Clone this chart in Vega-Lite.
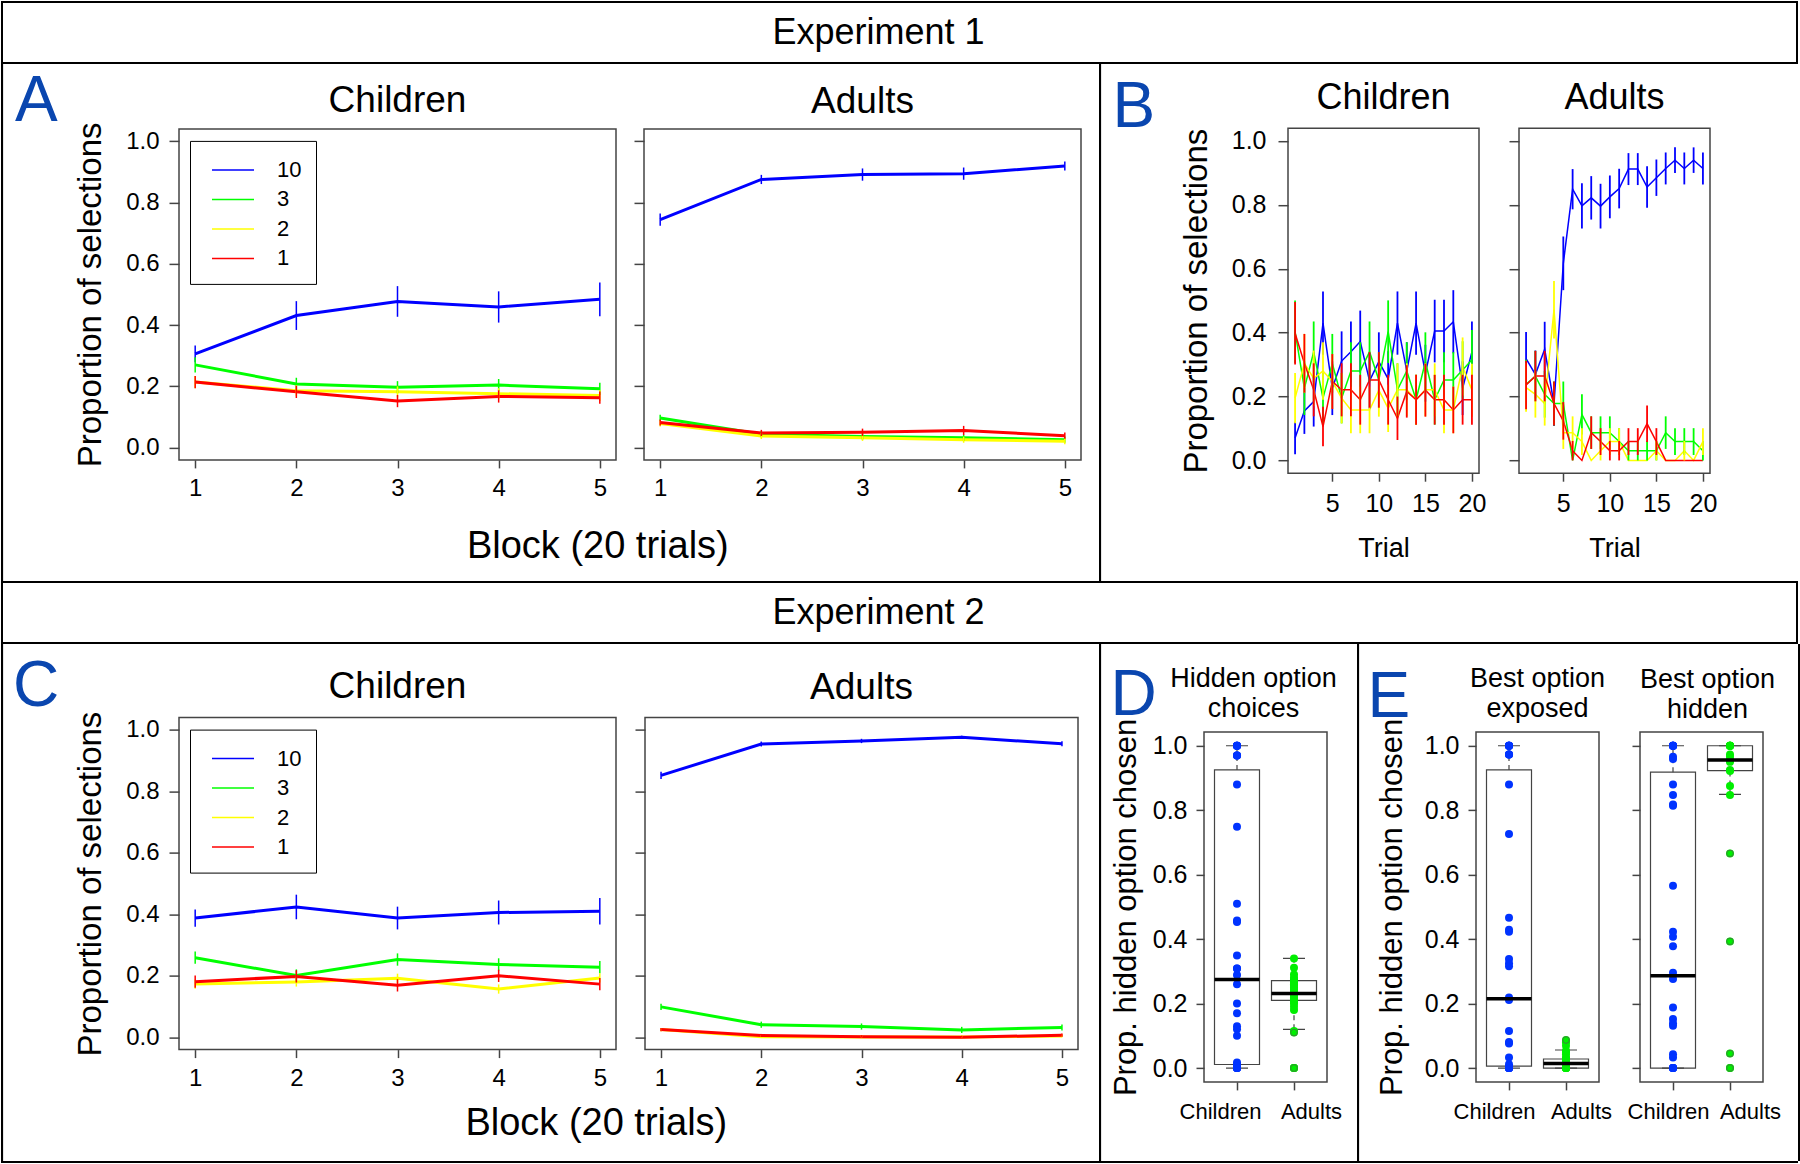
{
"$schema": "https://vega.github.io/schema/vega-lite/v6.json",
"padding": {"left": 1, "top": 1, "right": 0, "bottom": 0},
"background": "white",
"config": {
  "font": "Liberation Sans",
  "view": {"stroke": null},
  "title": {"fontWeight": "normal", "color": "black", "font": "Liberation Sans"},
  "axis": {"domain": false, "grid": false, "tickColor": "#444", "tickWidth": 1.5, "labelColor": "black", "titleColor": "black", "titleFontWeight": "normal", "labelFont": "Liberation Sans", "titleFont": "Liberation Sans", "labelFlush": false, "labelOverlap": false}
},
"datasets": {
  "blocks": [
    {"e":1,"g":"Children","o":"10","b":1,"p":0.306,"lo":0.279,"hi":0.333},
    {"e":1,"g":"Children","o":"10","b":2,"p":0.431,"lo":0.384,"hi":0.478},
    {"e":1,"g":"Children","o":"10","b":3,"p":0.477,"lo":0.427,"hi":0.527},
    {"e":1,"g":"Children","o":"10","b":4,"p":0.459,"lo":0.408,"hi":0.510},
    {"e":1,"g":"Children","o":"10","b":5,"p":0.484,"lo":0.429,"hi":0.539},
    {"e":1,"g":"Children","o":"3","b":1,"p":0.270,"lo":0.245,"hi":0.295},
    {"e":1,"g":"Children","o":"3","b":2,"p":0.208,"lo":0.188,"hi":0.228},
    {"e":1,"g":"Children","o":"3","b":3,"p":0.197,"lo":0.177,"hi":0.217},
    {"e":1,"g":"Children","o":"3","b":4,"p":0.204,"lo":0.184,"hi":0.224},
    {"e":1,"g":"Children","o":"3","b":5,"p":0.192,"lo":0.172,"hi":0.212},
    {"e":1,"g":"Children","o":"2","b":1,"p":0.214,"lo":0.194,"hi":0.234},
    {"e":1,"g":"Children","o":"2","b":2,"p":0.186,"lo":0.168,"hi":0.204},
    {"e":1,"g":"Children","o":"2","b":3,"p":0.182,"lo":0.164,"hi":0.200},
    {"e":1,"g":"Children","o":"2","b":4,"p":0.176,"lo":0.158,"hi":0.194},
    {"e":1,"g":"Children","o":"2","b":5,"p":0.170,"lo":0.152,"hi":0.188},
    {"e":1,"g":"Children","o":"1","b":1,"p":0.214,"lo":0.194,"hi":0.234},
    {"e":1,"g":"Children","o":"1","b":2,"p":0.182,"lo":0.162,"hi":0.202},
    {"e":1,"g":"Children","o":"1","b":3,"p":0.152,"lo":0.132,"hi":0.172},
    {"e":1,"g":"Children","o":"1","b":4,"p":0.167,"lo":0.147,"hi":0.187},
    {"e":1,"g":"Children","o":"1","b":5,"p":0.163,"lo":0.143,"hi":0.183},
    {"e":1,"g":"Adults","o":"10","b":1,"p":0.744,"lo":0.724,"hi":0.764},
    {"e":1,"g":"Adults","o":"10","b":2,"p":0.875,"lo":0.860,"hi":0.890},
    {"e":1,"g":"Adults","o":"10","b":3,"p":0.891,"lo":0.871,"hi":0.911},
    {"e":1,"g":"Adults","o":"10","b":4,"p":0.894,"lo":0.874,"hi":0.914},
    {"e":1,"g":"Adults","o":"10","b":5,"p":0.919,"lo":0.904,"hi":0.934},
    {"e":1,"g":"Adults","o":"3","b":1,"p":0.097,"lo":0.087,"hi":0.107},
    {"e":1,"g":"Adults","o":"3","b":2,"p":0.044,"lo":0.034,"hi":0.054},
    {"e":1,"g":"Adults","o":"3","b":3,"p":0.036,"lo":0.026,"hi":0.046},
    {"e":1,"g":"Adults","o":"3","b":4,"p":0.032,"lo":0.022,"hi":0.042},
    {"e":1,"g":"Adults","o":"3","b":5,"p":0.026,"lo":0.016,"hi":0.036},
    {"e":1,"g":"Adults","o":"2","b":1,"p":0.079,"lo":0.069,"hi":0.089},
    {"e":1,"g":"Adults","o":"2","b":2,"p":0.038,"lo":0.028,"hi":0.048},
    {"e":1,"g":"Adults","o":"2","b":3,"p":0.032,"lo":0.022,"hi":0.042},
    {"e":1,"g":"Adults","o":"2","b":4,"p":0.026,"lo":0.016,"hi":0.036},
    {"e":1,"g":"Adults","o":"2","b":5,"p":0.021,"lo":0.011,"hi":0.031},
    {"e":1,"g":"Adults","o":"1","b":1,"p":0.082,"lo":0.072,"hi":0.092},
    {"e":1,"g":"Adults","o":"1","b":2,"p":0.048,"lo":0.038,"hi":0.058},
    {"e":1,"g":"Adults","o":"1","b":3,"p":0.050,"lo":0.038,"hi":0.062},
    {"e":1,"g":"Adults","o":"1","b":4,"p":0.056,"lo":0.041,"hi":0.071},
    {"e":1,"g":"Adults","o":"1","b":5,"p":0.039,"lo":0.029,"hi":0.049},
    {"e":2,"g":"Children","o":"10","b":1,"p":0.388,"lo":0.360,"hi":0.416},
    {"e":2,"g":"Children","o":"10","b":2,"p":0.424,"lo":0.384,"hi":0.464},
    {"e":2,"g":"Children","o":"10","b":3,"p":0.388,"lo":0.351,"hi":0.425},
    {"e":2,"g":"Children","o":"10","b":4,"p":0.406,"lo":0.367,"hi":0.445},
    {"e":2,"g":"Children","o":"10","b":5,"p":0.410,"lo":0.367,"hi":0.453},
    {"e":2,"g":"Children","o":"3","b":1,"p":0.259,"lo":0.239,"hi":0.279},
    {"e":2,"g":"Children","o":"3","b":2,"p":0.201,"lo":0.181,"hi":0.221},
    {"e":2,"g":"Children","o":"3","b":3,"p":0.253,"lo":0.233,"hi":0.273},
    {"e":2,"g":"Children","o":"3","b":4,"p":0.237,"lo":0.217,"hi":0.257},
    {"e":2,"g":"Children","o":"3","b":5,"p":0.228,"lo":0.208,"hi":0.248},
    {"e":2,"g":"Children","o":"2","b":1,"p":0.173,"lo":0.158,"hi":0.188},
    {"e":2,"g":"Children","o":"2","b":2,"p":0.180,"lo":0.165,"hi":0.195},
    {"e":2,"g":"Children","o":"2","b":3,"p":0.192,"lo":0.177,"hi":0.207},
    {"e":2,"g":"Children","o":"2","b":4,"p":0.157,"lo":0.142,"hi":0.172},
    {"e":2,"g":"Children","o":"2","b":5,"p":0.193,"lo":0.178,"hi":0.208},
    {"e":2,"g":"Children","o":"1","b":1,"p":0.181,"lo":0.161,"hi":0.201},
    {"e":2,"g":"Children","o":"1","b":2,"p":0.198,"lo":0.178,"hi":0.218},
    {"e":2,"g":"Children","o":"1","b":3,"p":0.169,"lo":0.149,"hi":0.189},
    {"e":2,"g":"Children","o":"1","b":4,"p":0.200,"lo":0.180,"hi":0.220},
    {"e":2,"g":"Children","o":"1","b":5,"p":0.173,"lo":0.153,"hi":0.193},
    {"e":2,"g":"Adults","o":"10","b":1,"p":0.852,"lo":0.840,"hi":0.864},
    {"e":2,"g":"Adults","o":"10","b":2,"p":0.954,"lo":0.946,"hi":0.962},
    {"e":2,"g":"Adults","o":"10","b":3,"p":0.964,"lo":0.957,"hi":0.971},
    {"e":2,"g":"Adults","o":"10","b":4,"p":0.976,"lo":0.971,"hi":0.981},
    {"e":2,"g":"Adults","o":"10","b":5,"p":0.955,"lo":0.947,"hi":0.963},
    {"e":2,"g":"Adults","o":"3","b":1,"p":0.099,"lo":0.089,"hi":0.109},
    {"e":2,"g":"Adults","o":"3","b":2,"p":0.041,"lo":0.031,"hi":0.051},
    {"e":2,"g":"Adults","o":"3","b":3,"p":0.035,"lo":0.025,"hi":0.045},
    {"e":2,"g":"Adults","o":"3","b":4,"p":0.024,"lo":0.014,"hi":0.034},
    {"e":2,"g":"Adults","o":"3","b":5,"p":0.032,"lo":0.022,"hi":0.042},
    {"e":2,"g":"Adults","o":"2","b":1,"p":0.025,"lo":0.020,"hi":0.030},
    {"e":2,"g":"Adults","o":"2","b":2,"p":0.002,"lo":0.000,"hi":0.007},
    {"e":2,"g":"Adults","o":"2","b":3,"p":0.001,"lo":0.000,"hi":0.006},
    {"e":2,"g":"Adults","o":"2","b":4,"p":0.001,"lo":0.000,"hi":0.006},
    {"e":2,"g":"Adults","o":"2","b":5,"p":0.004,"lo":0.000,"hi":0.009},
    {"e":2,"g":"Adults","o":"1","b":1,"p":0.025,"lo":0.020,"hi":0.030},
    {"e":2,"g":"Adults","o":"1","b":2,"p":0.006,"lo":0.001,"hi":0.011},
    {"e":2,"g":"Adults","o":"1","b":3,"p":0.002,"lo":0.000,"hi":0.007},
    {"e":2,"g":"Adults","o":"1","b":4,"p":0.000,"lo":0.000,"hi":0.005},
    {"e":2,"g":"Adults","o":"1","b":5,"p":0.007,"lo":0.002,"hi":0.012}
  ],
  "trials": [
    {"g":"Children","o":"10","t":1,"p":0.07,"lo":0.019,"hi":0.121},
    {"g":"Children","o":"10","t":2,"p":0.155,"lo":0.083,"hi":0.227},
    {"g":"Children","o":"10","t":3,"p":0.184,"lo":0.106,"hi":0.262},
    {"g":"Children","o":"10","t":4,"p":0.43,"lo":0.331,"hi":0.529},
    {"g":"Children","o":"10","t":5,"p":0.226,"lo":0.142,"hi":0.31},
    {"g":"Children","o":"10","t":6,"p":0.311,"lo":0.218,"hi":0.404},
    {"g":"Children","o":"10","t":7,"p":0.34,"lo":0.245,"hi":0.435},
    {"g":"Children","o":"10","t":8,"p":0.372,"lo":0.275,"hi":0.469},
    {"g":"Children","o":"10","t":9,"p":0.249,"lo":0.162,"hi":0.336},
    {"g":"Children","o":"10","t":10,"p":0.309,"lo":0.217,"hi":0.401},
    {"g":"Children","o":"10","t":11,"p":0.255,"lo":0.168,"hi":0.342},
    {"g":"Children","o":"10","t":12,"p":0.43,"lo":0.331,"hi":0.529},
    {"g":"Children","o":"10","t":13,"p":0.28,"lo":0.19,"hi":0.37},
    {"g":"Children","o":"10","t":14,"p":0.43,"lo":0.331,"hi":0.529},
    {"g":"Children","o":"10","t":15,"p":0.273,"lo":0.184,"hi":0.362},
    {"g":"Children","o":"10","t":16,"p":0.405,"lo":0.307,"hi":0.503},
    {"g":"Children","o":"10","t":17,"p":0.405,"lo":0.307,"hi":0.503},
    {"g":"Children","o":"10","t":18,"p":0.434,"lo":0.335,"hi":0.533},
    {"g":"Children","o":"10","t":19,"p":0.226,"lo":0.142,"hi":0.31},
    {"g":"Children","o":"10","t":20,"p":0.34,"lo":0.245,"hi":0.435},
    {"g":"Children","o":"3","t":1,"p":0.403,"lo":0.305,"hi":0.501},
    {"g":"Children","o":"3","t":2,"p":0.226,"lo":0.142,"hi":0.31},
    {"g":"Children","o":"3","t":3,"p":0.34,"lo":0.245,"hi":0.435},
    {"g":"Children","o":"3","t":4,"p":0.195,"lo":0.116,"hi":0.274},
    {"g":"Children","o":"3","t":5,"p":0.304,"lo":0.212,"hi":0.396},
    {"g":"Children","o":"3","t":6,"p":0.195,"lo":0.116,"hi":0.274},
    {"g":"Children","o":"3","t":7,"p":0.28,"lo":0.19,"hi":0.37},
    {"g":"Children","o":"3","t":8,"p":0.28,"lo":0.19,"hi":0.37},
    {"g":"Children","o":"3","t":9,"p":0.34,"lo":0.245,"hi":0.435},
    {"g":"Children","o":"3","t":10,"p":0.252,"lo":0.165,"hi":0.339},
    {"g":"Children","o":"3","t":11,"p":0.403,"lo":0.305,"hi":0.501},
    {"g":"Children","o":"3","t":12,"p":0.221,"lo":0.138,"hi":0.304},
    {"g":"Children","o":"3","t":13,"p":0.28,"lo":0.19,"hi":0.37},
    {"g":"Children","o":"3","t":14,"p":0.19,"lo":0.112,"hi":0.268},
    {"g":"Children","o":"3","t":15,"p":0.309,"lo":0.217,"hi":0.401},
    {"g":"Children","o":"3","t":16,"p":0.19,"lo":0.112,"hi":0.268},
    {"g":"Children","o":"3","t":17,"p":0.252,"lo":0.165,"hi":0.339},
    {"g":"Children","o":"3","t":18,"p":0.252,"lo":0.165,"hi":0.339},
    {"g":"Children","o":"3","t":19,"p":0.283,"lo":0.193,"hi":0.373},
    {"g":"Children","o":"3","t":20,"p":0.315,"lo":0.222,"hi":0.408},
    {"g":"Children","o":"2","t":1,"p":0.195,"lo":0.116,"hi":0.274},
    {"g":"Children","o":"2","t":2,"p":0.304,"lo":0.212,"hi":0.396},
    {"g":"Children","o":"2","t":3,"p":0.257,"lo":0.17,"hi":0.344},
    {"g":"Children","o":"2","t":4,"p":0.28,"lo":0.19,"hi":0.37},
    {"g":"Children","o":"2","t":5,"p":0.247,"lo":0.161,"hi":0.333},
    {"g":"Children","o":"2","t":6,"p":0.195,"lo":0.116,"hi":0.274},
    {"g":"Children","o":"2","t":7,"p":0.158,"lo":0.085,"hi":0.231},
    {"g":"Children","o":"2","t":8,"p":0.158,"lo":0.085,"hi":0.231},
    {"g":"Children","o":"2","t":9,"p":0.158,"lo":0.085,"hi":0.231},
    {"g":"Children","o":"2","t":10,"p":0.22,"lo":0.137,"hi":0.303},
    {"g":"Children","o":"2","t":11,"p":0.163,"lo":0.089,"hi":0.237},
    {"g":"Children","o":"2","t":12,"p":0.221,"lo":0.138,"hi":0.304},
    {"g":"Children","o":"2","t":13,"p":0.221,"lo":0.138,"hi":0.304},
    {"g":"Children","o":"2","t":14,"p":0.19,"lo":0.112,"hi":0.268},
    {"g":"Children","o":"2","t":15,"p":0.221,"lo":0.138,"hi":0.304},
    {"g":"Children","o":"2","t":16,"p":0.221,"lo":0.138,"hi":0.304},
    {"g":"Children","o":"2","t":17,"p":0.158,"lo":0.085,"hi":0.231},
    {"g":"Children","o":"2","t":18,"p":0.158,"lo":0.085,"hi":0.231},
    {"g":"Children","o":"2","t":19,"p":0.294,"lo":0.203,"hi":0.385},
    {"g":"Children","o":"2","t":20,"p":0.22,"lo":0.137,"hi":0.303},
    {"g":"Children","o":"1","t":1,"p":0.398,"lo":0.3,"hi":0.496},
    {"g":"Children","o":"1","t":2,"p":0.304,"lo":0.212,"hi":0.396},
    {"g":"Children","o":"1","t":3,"p":0.221,"lo":0.138,"hi":0.304},
    {"g":"Children","o":"1","t":4,"p":0.106,"lo":0.044,"hi":0.168},
    {"g":"Children","o":"1","t":5,"p":0.247,"lo":0.161,"hi":0.333},
    {"g":"Children","o":"1","t":6,"p":0.221,"lo":0.138,"hi":0.304},
    {"g":"Children","o":"1","t":7,"p":0.221,"lo":0.138,"hi":0.304},
    {"g":"Children","o":"1","t":8,"p":0.19,"lo":0.112,"hi":0.268},
    {"g":"Children","o":"1","t":9,"p":0.252,"lo":0.165,"hi":0.339},
    {"g":"Children","o":"1","t":10,"p":0.252,"lo":0.165,"hi":0.339},
    {"g":"Children","o":"1","t":11,"p":0.19,"lo":0.112,"hi":0.268},
    {"g":"Children","o":"1","t":12,"p":0.132,"lo":0.064,"hi":0.2},
    {"g":"Children","o":"1","t":13,"p":0.216,"lo":0.134,"hi":0.298},
    {"g":"Children","o":"1","t":14,"p":0.19,"lo":0.112,"hi":0.268},
    {"g":"Children","o":"1","t":15,"p":0.22,"lo":0.137,"hi":0.303},
    {"g":"Children","o":"1","t":16,"p":0.19,"lo":0.112,"hi":0.268},
    {"g":"Children","o":"1","t":17,"p":0.19,"lo":0.112,"hi":0.268},
    {"g":"Children","o":"1","t":18,"p":0.158,"lo":0.085,"hi":0.231},
    {"g":"Children","o":"1","t":19,"p":0.19,"lo":0.112,"hi":0.268},
    {"g":"Children","o":"1","t":20,"p":0.19,"lo":0.112,"hi":0.268},
    {"g":"Adults","o":"10","t":1,"p":0.319,"lo":0.236,"hi":0.402},
    {"g":"Adults","o":"10","t":2,"p":0.269,"lo":0.194,"hi":0.344},
    {"g":"Adults","o":"10","t":3,"p":0.348,"lo":0.262,"hi":0.434},
    {"g":"Adults","o":"10","t":4,"p":0.176,"lo":0.108,"hi":0.244},
    {"g":"Adults","o":"10","t":5,"p":0.617,"lo":0.533,"hi":0.701},
    {"g":"Adults","o":"10","t":6,"p":0.849,"lo":0.786,"hi":0.912},
    {"g":"Adults","o":"10","t":7,"p":0.797,"lo":0.726,"hi":0.868},
    {"g":"Adults","o":"10","t":8,"p":0.822,"lo":0.754,"hi":0.89},
    {"g":"Adults","o":"10","t":9,"p":0.796,"lo":0.726,"hi":0.866},
    {"g":"Adults","o":"10","t":10,"p":0.825,"lo":0.758,"hi":0.892},
    {"g":"Adults","o":"10","t":11,"p":0.851,"lo":0.789,"hi":0.913},
    {"g":"Adults","o":"10","t":12,"p":0.912,"lo":0.862,"hi":0.962},
    {"g":"Adults","o":"10","t":13,"p":0.912,"lo":0.862,"hi":0.962},
    {"g":"Adults","o":"10","t":14,"p":0.856,"lo":0.791,"hi":0.921},
    {"g":"Adults","o":"10","t":15,"p":0.885,"lo":0.828,"hi":0.942},
    {"g":"Adults","o":"10","t":16,"p":0.914,"lo":0.864,"hi":0.964},
    {"g":"Adults","o":"10","t":17,"p":0.94,"lo":0.9,"hi":0.98},
    {"g":"Adults","o":"10","t":18,"p":0.914,"lo":0.864,"hi":0.964},
    {"g":"Adults","o":"10","t":19,"p":0.94,"lo":0.9,"hi":0.98},
    {"g":"Adults","o":"10","t":20,"p":0.914,"lo":0.864,"hi":0.964},
    {"g":"Adults","o":"3","t":1,"p":0.238,"lo":0.161,"hi":0.315},
    {"g":"Adults","o":"3","t":2,"p":0.264,"lo":0.185,"hi":0.343},
    {"g":"Adults","o":"3","t":3,"p":0.207,"lo":0.134,"hi":0.28},
    {"g":"Adults","o":"3","t":4,"p":0.178,"lo":0.109,"hi":0.247},
    {"g":"Adults","o":"3","t":5,"p":0.178,"lo":0.109,"hi":0.247},
    {"g":"Adults","o":"3","t":6,"p":0.0,"lo":0.0,"hi":0.0},
    {"g":"Adults","o":"3","t":7,"p":0.144,"lo":0.081,"hi":0.207},
    {"g":"Adults","o":"3","t":8,"p":0.087,"lo":0.036,"hi":0.138},
    {"g":"Adults","o":"3","t":9,"p":0.087,"lo":0.036,"hi":0.138},
    {"g":"Adults","o":"3","t":10,"p":0.087,"lo":0.036,"hi":0.138},
    {"g":"Adults","o":"3","t":11,"p":0.059,"lo":0.017,"hi":0.101},
    {"g":"Adults","o":"3","t":12,"p":0.03,"lo":0.0,"hi":0.061},
    {"g":"Adults","o":"3","t":13,"p":0.03,"lo":0.0,"hi":0.061},
    {"g":"Adults","o":"3","t":14,"p":0.03,"lo":0.0,"hi":0.061},
    {"g":"Adults","o":"3","t":15,"p":0.03,"lo":0.0,"hi":0.061},
    {"g":"Adults","o":"3","t":16,"p":0.087,"lo":0.036,"hi":0.138},
    {"g":"Adults","o":"3","t":17,"p":0.059,"lo":0.017,"hi":0.101},
    {"g":"Adults","o":"3","t":18,"p":0.059,"lo":0.017,"hi":0.101},
    {"g":"Adults","o":"3","t":19,"p":0.059,"lo":0.017,"hi":0.101},
    {"g":"Adults","o":"3","t":20,"p":0.03,"lo":0.0,"hi":0.061},
    {"g":"Adults","o":"2","t":1,"p":0.228,"lo":0.152,"hi":0.304},
    {"g":"Adults","o":"2","t":2,"p":0.207,"lo":0.134,"hi":0.28},
    {"g":"Adults","o":"2","t":3,"p":0.178,"lo":0.109,"hi":0.247},
    {"g":"Adults","o":"2","t":4,"p":0.472,"lo":0.382,"hi":0.562},
    {"g":"Adults","o":"2","t":5,"p":0.087,"lo":0.036,"hi":0.138},
    {"g":"Adults","o":"2","t":6,"p":0.087,"lo":0.036,"hi":0.138},
    {"g":"Adults","o":"2","t":7,"p":0.059,"lo":0.017,"hi":0.101},
    {"g":"Adults","o":"2","t":8,"p":0.0,"lo":0.0,"hi":0.0},
    {"g":"Adults","o":"2","t":9,"p":0.03,"lo":0.0,"hi":0.061},
    {"g":"Adults","o":"2","t":10,"p":0.059,"lo":0.017,"hi":0.101},
    {"g":"Adults","o":"2","t":11,"p":0.059,"lo":0.017,"hi":0.101},
    {"g":"Adults","o":"2","t":12,"p":0.0,"lo":0.0,"hi":0.0},
    {"g":"Adults","o":"2","t":13,"p":0.0,"lo":0.0,"hi":0.0},
    {"g":"Adults","o":"2","t":14,"p":0.0,"lo":0.0,"hi":0.0},
    {"g":"Adults","o":"2","t":15,"p":0.03,"lo":0.0,"hi":0.061},
    {"g":"Adults","o":"2","t":16,"p":0.0,"lo":0.0,"hi":0.0},
    {"g":"Adults","o":"2","t":17,"p":0.0,"lo":0.0,"hi":0.0},
    {"g":"Adults","o":"2","t":18,"p":0.03,"lo":0.0,"hi":0.061},
    {"g":"Adults","o":"2","t":19,"p":0.0,"lo":0.0,"hi":0.0},
    {"g":"Adults","o":"2","t":20,"p":0.059,"lo":0.017,"hi":0.101},
    {"g":"Adults","o":"1","t":1,"p":0.236,"lo":0.16,"hi":0.312},
    {"g":"Adults","o":"1","t":2,"p":0.264,"lo":0.185,"hi":0.343},
    {"g":"Adults","o":"1","t":3,"p":0.264,"lo":0.185,"hi":0.343},
    {"g":"Adults","o":"1","t":4,"p":0.178,"lo":0.109,"hi":0.247},
    {"g":"Adults","o":"1","t":5,"p":0.124,"lo":0.065,"hi":0.183},
    {"g":"Adults","o":"1","t":6,"p":0.03,"lo":0.0,"hi":0.061},
    {"g":"Adults","o":"1","t":7,"p":0.0,"lo":0.0,"hi":0.0},
    {"g":"Adults","o":"1","t":8,"p":0.087,"lo":0.036,"hi":0.138},
    {"g":"Adults","o":"1","t":9,"p":0.059,"lo":0.017,"hi":0.101},
    {"g":"Adults","o":"1","t":10,"p":0.03,"lo":0.0,"hi":0.061},
    {"g":"Adults","o":"1","t":11,"p":0.03,"lo":0.0,"hi":0.061},
    {"g":"Adults","o":"1","t":12,"p":0.059,"lo":0.017,"hi":0.101},
    {"g":"Adults","o":"1","t":13,"p":0.059,"lo":0.017,"hi":0.101},
    {"g":"Adults","o":"1","t":14,"p":0.115,"lo":0.058,"hi":0.172},
    {"g":"Adults","o":"1","t":15,"p":0.059,"lo":0.017,"hi":0.101},
    {"g":"Adults","o":"1","t":16,"p":0.0,"lo":0.0,"hi":0.0},
    {"g":"Adults","o":"1","t":17,"p":0.0,"lo":0.0,"hi":0.0},
    {"g":"Adults","o":"1","t":18,"p":0.0,"lo":0.0,"hi":0.0},
    {"g":"Adults","o":"1","t":19,"p":0.0,"lo":0.0,"hi":0.0},
    {"g":"Adults","o":"1","t":20,"p":0.0,"lo":0.0,"hi":0.0}
  ],
  "pts": [
    {"pn":"D","g":"Children","v":1},{"pn":"D","g":"Children","v":1},{"pn":"D","g":"Children","v":1},{"pn":"D","g":"Children","v":1},{"pn":"D","g":"Children","v":1},
    {"pn":"D","g":"Children","v":0.97},{"pn":"D","g":"Children","v":0.97},{"pn":"D","g":"Children","v":0.97},{"pn":"D","g":"Children","v":0.88},{"pn":"D","g":"Children","v":0.749},
    {"pn":"D","g":"Children","v":0.51},{"pn":"D","g":"Children","v":0.458},{"pn":"D","g":"Children","v":0.453},{"pn":"D","g":"Children","v":0.349},{"pn":"D","g":"Children","v":0.309},
    {"pn":"D","g":"Children","v":0.309},{"pn":"D","g":"Children","v":0.289},{"pn":"D","g":"Children","v":0.26},{"pn":"D","g":"Children","v":0.2},{"pn":"D","g":"Children","v":0.17},
    {"pn":"D","g":"Children","v":0.13},{"pn":"D","g":"Children","v":0.12},{"pn":"D","g":"Children","v":0.1},{"pn":"D","g":"Children","v":0.017},{"pn":"D","g":"Children","v":0.01},
    {"pn":"D","g":"Children","v":0.005},{"pn":"D","g":"Children","v":0},{"pn":"D","g":"Children","v":0},{"pn":"D","g":"Children","v":0},{"pn":"D","g":"Children","v":0},{"pn":"D","g":"Children","v":0},
    {"pn":"D","g":"Adults","v":0.34},{"pn":"D","g":"Adults","v":0.311},{"pn":"D","g":"Adults","v":0.29},{"pn":"D","g":"Adults","v":0.28},{"pn":"D","g":"Adults","v":0.275},
    {"pn":"D","g":"Adults","v":0.27},{"pn":"D","g":"Adults","v":0.265},{"pn":"D","g":"Adults","v":0.26},{"pn":"D","g":"Adults","v":0.255},{"pn":"D","g":"Adults","v":0.25},
    {"pn":"D","g":"Adults","v":0.245},{"pn":"D","g":"Adults","v":0.24},{"pn":"D","g":"Adults","v":0.235},{"pn":"D","g":"Adults","v":0.23},{"pn":"D","g":"Adults","v":0.228},
    {"pn":"D","g":"Adults","v":0.225},{"pn":"D","g":"Adults","v":0.22},{"pn":"D","g":"Adults","v":0.215},{"pn":"D","g":"Adults","v":0.21},{"pn":"D","g":"Adults","v":0.205},
    {"pn":"D","g":"Adults","v":0.2},{"pn":"D","g":"Adults","v":0.19},{"pn":"D","g":"Adults","v":0.18},{"pn":"D","g":"Adults","v":0.115},{"pn":"D","g":"Adults","v":0.11},
    {"pn":"D","g":"Adults","v":0},{"pn":"D","g":"Adults","v":0},{"pn":"D","g":"Adults","v":0},{"pn":"D","g":"Adults","v":0},
    {"pn":"E1","g":"Children","v":1},{"pn":"E1","g":"Children","v":1},{"pn":"E1","g":"Children","v":1},{"pn":"E1","g":"Children","v":1},{"pn":"E1","g":"Children","v":1},{"pn":"E1","g":"Children","v":1},
    {"pn":"E1","g":"Children","v":0.973},{"pn":"E1","g":"Children","v":0.973},{"pn":"E1","g":"Children","v":0.973},{"pn":"E1","g":"Children","v":0.88},{"pn":"E1","g":"Children","v":0.726},
    {"pn":"E1","g":"Children","v":0.466},{"pn":"E1","g":"Children","v":0.429},{"pn":"E1","g":"Children","v":0.423},{"pn":"E1","g":"Children","v":0.338},{"pn":"E1","g":"Children","v":0.325},
    {"pn":"E1","g":"Children","v":0.316},{"pn":"E1","g":"Children","v":0.219},{"pn":"E1","g":"Children","v":0.211},{"pn":"E1","g":"Children","v":0.115},{"pn":"E1","g":"Children","v":0.081},
    {"pn":"E1","g":"Children","v":0.076},{"pn":"E1","g":"Children","v":0.033},{"pn":"E1","g":"Children","v":0.012},
    {"pn":"E1","g":"Children","v":0},{"pn":"E1","g":"Children","v":0},{"pn":"E1","g":"Children","v":0},{"pn":"E1","g":"Children","v":0},{"pn":"E1","g":"Children","v":0},{"pn":"E1","g":"Children","v":0},
    {"pn":"E1","g":"Adults","v":0.087},{"pn":"E1","g":"Adults","v":0.082},{"pn":"E1","g":"Adults","v":0.08},{"pn":"E1","g":"Adults","v":0.069},{"pn":"E1","g":"Adults","v":0.054},
    {"pn":"E1","g":"Adults","v":0.05},{"pn":"E1","g":"Adults","v":0.043},{"pn":"E1","g":"Adults","v":0.033},{"pn":"E1","g":"Adults","v":0.03},{"pn":"E1","g":"Adults","v":0.023},
    {"pn":"E1","g":"Adults","v":0.02},{"pn":"E1","g":"Adults","v":0.012},{"pn":"E1","g":"Adults","v":0.01},
    {"pn":"E1","g":"Adults","v":0},{"pn":"E1","g":"Adults","v":0},{"pn":"E1","g":"Adults","v":0},{"pn":"E1","g":"Adults","v":0},{"pn":"E1","g":"Adults","v":0},{"pn":"E1","g":"Adults","v":0},
    {"pn":"E2","g":"Children","v":1},{"pn":"E2","g":"Children","v":1},{"pn":"E2","g":"Children","v":1},{"pn":"E2","g":"Children","v":1},{"pn":"E2","g":"Children","v":1},{"pn":"E2","g":"Children","v":1},
    {"pn":"E2","g":"Children","v":0.966},{"pn":"E2","g":"Children","v":0.959},{"pn":"E2","g":"Children","v":0.88},{"pn":"E2","g":"Children","v":0.847},{"pn":"E2","g":"Children","v":0.818},
    {"pn":"E2","g":"Children","v":0.814},{"pn":"E2","g":"Children","v":0.566},{"pn":"E2","g":"Children","v":0.423},{"pn":"E2","g":"Children","v":0.407},{"pn":"E2","g":"Children","v":0.378},
    {"pn":"E2","g":"Children","v":0.296},{"pn":"E2","g":"Children","v":0.276},{"pn":"E2","g":"Children","v":0.188},{"pn":"E2","g":"Children","v":0.152},{"pn":"E2","g":"Children","v":0.139},
    {"pn":"E2","g":"Children","v":0.131},{"pn":"E2","g":"Children","v":0.043},{"pn":"E2","g":"Children","v":0.033},
    {"pn":"E2","g":"Children","v":0},{"pn":"E2","g":"Children","v":0},{"pn":"E2","g":"Children","v":0},{"pn":"E2","g":"Children","v":0},{"pn":"E2","g":"Children","v":0},
    {"pn":"E2","g":"Adults","v":1},{"pn":"E2","g":"Adults","v":1},{"pn":"E2","g":"Adults","v":1},{"pn":"E2","g":"Adults","v":1},{"pn":"E2","g":"Adults","v":1},{"pn":"E2","g":"Adults","v":1},
    {"pn":"E2","g":"Adults","v":0.973},{"pn":"E2","g":"Adults","v":0.966},{"pn":"E2","g":"Adults","v":0.956},{"pn":"E2","g":"Adults","v":0.95},{"pn":"E2","g":"Adults","v":0.925},
    {"pn":"E2","g":"Adults","v":0.922},{"pn":"E2","g":"Adults","v":0.875},{"pn":"E2","g":"Adults","v":0.847},{"pn":"E2","g":"Adults","v":0.666},{"pn":"E2","g":"Adults","v":0.393},
    {"pn":"E2","g":"Adults","v":0.045},{"pn":"E2","g":"Adults","v":0},{"pn":"E2","g":"Adults","v":0}
  ],
  "boxes": [
    {"pn":"D","g":"Children","q1":0.011,"med":0.275,"q3":0.925,"wlo":0,"whi":1},
    {"pn":"D","g":"Adults","q1":0.21,"med":0.231,"q3":0.271,"wlo":0.12,"whi":0.34},
    {"pn":"E1","g":"Children","q1":0.006,"med":0.215,"q3":0.925,"wlo":0,"whi":1},
    {"pn":"E1","g":"Adults","q1":0,"med":0.014,"q3":0.028,"wlo":0,"whi":0.056},
    {"pn":"E2","g":"Children","q1":0,"med":0.286,"q3":0.918,"wlo":0,"whi":1},
    {"pn":"E2","g":"Adults","q1":0.923,"med":0.956,"q3":1,"wlo":0.849,"whi":1}
  ],
  "outl": [
    {"pn":"D","g":"Adults","v":0.11},{"pn":"D","g":"Adults","v":0},
    {"pn":"E1","g":"Adults","v":0.087},
    {"pn":"E2","g":"Adults","v":0.666},{"pn":"E2","g":"Adults","v":0.393},{"pn":"E2","g":"Adults","v":0.045},{"pn":"E2","g":"Adults","v":0}
  ]
},
"spacing": 0,
"resolve": {"scale": {"color": "independent"}},
"vconcat": [
  {"width": 1795, "height": 61, "data": {"values": [{"t": "Experiment 1"}]}, "mark": {"type": "text", "fontSize": 36, "dx": -21, "color": "black"}, "encoding": {"text": {"field": "t"}}, "view": {"stroke": "black", "strokeWidth": 2}},
  {"hconcat": [
    {"width": 0.1, "height": 515, "data": {"values": [{}]}, "mark": {"type": "text", "text": "", "fontSize": 0}, "view": {"stroke": "black", "strokeWidth": 2}},
    {"width": 10, "height": 2, "data": {"values": [{}]}, "mark": {"type": "text", "text": "", "fontSize": 0}},
    {"vconcat": [
      {"width": 1, "height": 0.1, "data": {"values": [{}]}, "mark": {"type": "text", "text": "", "fontSize": 0}},
      {"hconcat": [
        {"width": 437, "height": 331, "view": {"stroke": "#444", "strokeWidth": 1.5},
         "title": {"text": "Children", "fontSize": 37, "offset": -27, "baseline": "alphabetic"},
         "data": {"name": "blocks"},
         "transform": [{"filter": "datum.e == 1 && datum.g == 'Children'"}],
         "encoding": {
           "x": {"field": "b", "type": "quantitative", "scale": {"domain": [0.84, 5.16], "nice": false, "zero": false}, "axis": {"values": [1,2,3,4,5], "format": "d", "title": null, "tickSize": 8, "labelFontSize": 24, "labelPadding": 9}},
           "color": {"field": "o", "type": "nominal", "scale": {"domain": ["10","3","2","1"], "range": ["#0000FF","#00FF00","#FFFF00","#FF0000"]},
             "legend": {"orient": "none", "legendX": 11, "legendY": 12, "title": null, "strokeColor": "black", "padding": 14, "symbolType": "M-1.5,0H1.5", "symbolSize": 784, "symbolStrokeWidth": 1.5, "symbolOffset": 14, "labelOffset": 29, "labelFontSize": 22, "rowPadding": 3.5, "labelColor": "black"}}
         },
         "layer": [
           {"mark": {"type": "line", "strokeWidth": 3}, "encoding": {"y": {"field": "p", "type": "quantitative", "title": "Proportion of selections", "scale": {"domain": [-0.04, 1.04], "nice": false, "zero": false}, "axis": {"values": [0,0.2,0.4,0.6,0.8,1], "format": ".1f", "tickSize": 10, "labelFontSize": 24, "labelPadding": 10, "titleFontSize": 33, "titlePadding": 18}}}},
           {"mark": {"type": "rule", "strokeWidth": 1.5}, "encoding": {"y": {"field": "lo", "type": "quantitative", "title": "Proportion of selections", "scale": {"domain": [-0.04, 1.04], "nice": false, "zero": false}}, "y2": {"field": "hi"}}}
         ]},
        {"width": 437, "height": 331, "view": {"stroke": "#444", "strokeWidth": 1.5},
         "title": {"text": "Adults", "fontSize": 37, "offset": -21, "baseline": "alphabetic"},
         "data": {"name": "blocks"},
         "transform": [{"filter": "datum.e == 1 && datum.g == 'Adults'"}],
         "encoding": {
           "x": {"field": "b", "type": "quantitative", "scale": {"domain": [0.84, 5.16], "nice": false, "zero": false}, "axis": {"values": [1,2,3,4,5], "format": "d", "title": null, "tickSize": 8, "labelFontSize": 24, "labelPadding": 9}},
           "color": {"field": "o", "type": "nominal", "scale": {"domain": ["10","3","2","1"], "range": ["#0000FF","#00FF00","#FFFF00","#FF0000"]}, "legend": null}
         },
         "layer": [
           {"mark": {"type": "line", "strokeWidth": 3}, "encoding": {"y": {"field": "p", "type": "quantitative", "title": null, "scale": {"domain": [-0.04, 1.04], "nice": false, "zero": false}, "axis": {"values": [0,0.2,0.4,0.6,0.8,1], "labels": false, "tickSize": 10}}}},
           {"mark": {"type": "rule", "strokeWidth": 1.5}, "encoding": {"y": {"field": "lo", "type": "quantitative", "title": null, "scale": {"domain": [-0.04, 1.04], "nice": false, "zero": false}}, "y2": {"field": "hi"}}}
         ]}
      ], "spacing": 15, "resolve": {"scale": {"color": "independent"}},
      "title": {"text": "Block (20 trials)", "orient": "bottom", "anchor": "middle", "frame": "bounds", "fontSize": 38, "offset": 56, "dx": 20, "baseline": "alphabetic"}}
    ], "spacing": 14.9, "resolve": {"scale": {"color": "independent"}},
    "title": {"text": "A", "anchor": "start", "frame": "bounds", "fontSize": 64, "color": "#0A46AF", "offset": -69, "dx": -59, "baseline": "top"}},
    {"width": 17, "height": 2, "data": {"values": [{}]}, "mark": {"type": "text", "text": "", "fontSize": 0}},
    {"width": 0.1, "height": 515, "data": {"values": [{}]}, "mark": {"type": "text", "text": "", "fontSize": 0}, "view": {"stroke": "black", "strokeWidth": 2}},
    {"width": 10, "height": 2, "data": {"values": [{}]}, "mark": {"type": "text", "text": "", "fontSize": 0}},
    {"vconcat": [
      {"width": 1, "height": 0.1, "data": {"values": [{}]}, "mark": {"type": "text", "text": "", "fontSize": 0}},
      {"hconcat": [
        {"width": 191, "height": 345, "view": {"stroke": "#444", "strokeWidth": 1.5},
         "title": {"text": "Children", "fontSize": 36, "offset": -17, "baseline": "alphabetic"},
         "data": {"name": "trials"},
         "transform": [{"filter": "datum.g == 'Children'"}],
         "encoding": {
           "x": {"field": "t", "type": "quantitative", "scale": {"domain": [0.24, 20.76], "nice": false, "zero": false}, "axis": {"values": [5,10,15,20], "format": "d", "title": "Trial", "titleFontSize": 27, "titlePadding": 19, "tickSize": 8, "labelFontSize": 25, "labelPadding": 10}},
           "color": {"field": "o", "type": "nominal", "scale": {"domain": ["10","3","2","1"], "range": ["#0000FF","#00FF00","#FFFF00","#FF0000"]}, "legend": null}
         },
         "layer": [
           {"mark": {"type": "line", "strokeWidth": 1.5}, "encoding": {"y": {"field": "p", "type": "quantitative", "title": "Proportion of selections", "scale": {"domain": [-0.04, 1.04], "nice": false, "zero": false}, "axis": {"values": [0,0.2,0.4,0.6,0.8,1], "format": ".1f", "tickSize": 10, "labelFontSize": 25, "labelPadding": 12, "titleFontSize": 33, "titlePadding": 18}}}},
           {"mark": {"type": "rule", "strokeWidth": 1.8}, "encoding": {"y": {"field": "lo", "type": "quantitative", "title": "Proportion of selections", "scale": {"domain": [-0.04, 1.04], "nice": false, "zero": false}}, "y2": {"field": "hi"}}}
         ]},
        {"width": 191, "height": 345, "view": {"stroke": "#444", "strokeWidth": 1.5},
         "title": {"text": "Adults", "fontSize": 36, "offset": -17, "baseline": "alphabetic"},
         "data": {"name": "trials"},
         "transform": [{"filter": "datum.g == 'Adults'"}],
         "encoding": {
           "x": {"field": "t", "type": "quantitative", "scale": {"domain": [0.24, 20.76], "nice": false, "zero": false}, "axis": {"values": [5,10,15,20], "format": "d", "title": "Trial", "titleFontSize": 27, "titlePadding": 19, "tickSize": 8, "labelFontSize": 25, "labelPadding": 10}},
           "color": {"field": "o", "type": "nominal", "scale": {"domain": ["10","3","2","1"], "range": ["#0000FF","#00FF00","#FFFF00","#FF0000"]}, "legend": null}
         },
         "layer": [
           {"mark": {"type": "line", "strokeWidth": 1.5}, "encoding": {"y": {"field": "p", "type": "quantitative", "title": null, "scale": {"domain": [-0.04, 1.04], "nice": false, "zero": false}, "axis": {"values": [0,0.2,0.4,0.6,0.8,1], "labels": false, "tickSize": 10}}}},
           {"mark": {"type": "rule", "strokeWidth": 1.8}, "encoding": {"y": {"field": "lo", "type": "quantitative", "title": null, "scale": {"domain": [-0.04, 1.04], "nice": false, "zero": false}}, "y2": {"field": "hi"}}}
         ]}
      ], "spacing": 20, "resolve": {"scale": {"color": "independent"}}}
    ], "spacing": 13.2, "resolve": {"scale": {"color": "independent"}},
    "title": {"text": "B", "anchor": "start", "frame": "bounds", "fontSize": 64, "color": "#0A46AF", "offset": -75, "dx": -67, "baseline": "top"}},
    {"width": 83, "height": 2, "data": {"values": [{}]}, "mark": {"type": "text", "text": "", "fontSize": 0}},
    {"width": 0.1, "height": 515, "data": {"values": [{}]}, "mark": {"type": "text", "text": "", "fontSize": 0}, "view": {"stroke": "black", "strokeWidth": 2}}
  ], "spacing": 0, "resolve": {"scale": {"color": "independent"}}},
  {"width": 1795, "height": 61, "data": {"values": [{"t": "Experiment 2"}]}, "mark": {"type": "text", "fontSize": 36, "dx": -21, "color": "black"}, "encoding": {"text": {"field": "t"}}, "view": {"stroke": "black", "strokeWidth": 2}},
  {"hconcat": [
    {"width": 0.1, "height": 515, "data": {"values": [{}]}, "mark": {"type": "text", "text": "", "fontSize": 0}, "view": {"stroke": "black", "strokeWidth": 2}},
    {"width": 8, "height": 2, "data": {"values": [{}]}, "mark": {"type": "text", "text": "", "fontSize": 0}},
    {"vconcat": [
      {"width": 1, "height": 0.1, "data": {"values": [{}]}, "mark": {"type": "text", "text": "", "fontSize": 0}},
      {"hconcat": [
        {"width": 437, "height": 332, "view": {"stroke": "#444", "strokeWidth": 1.5},
         "title": {"text": "Children", "fontSize": 37, "offset": -24, "baseline": "alphabetic"},
         "data": {"name": "blocks"},
         "transform": [{"filter": "datum.e == 2 && datum.g == 'Children'"}],
         "encoding": {
           "x": {"field": "b", "type": "quantitative", "scale": {"domain": [0.84, 5.16], "nice": false, "zero": false}, "axis": {"values": [1,2,3,4,5], "format": "d", "title": null, "tickSize": 8, "labelFontSize": 24, "labelPadding": 9}},
           "color": {"field": "o", "type": "nominal", "scale": {"domain": ["10","3","2","1"], "range": ["#0000FF","#00FF00","#FFFF00","#FF0000"]},
             "legend": {"orient": "none", "legendX": 11, "legendY": 12, "title": null, "strokeColor": "black", "padding": 14, "symbolType": "M-1.5,0H1.5", "symbolSize": 784, "symbolStrokeWidth": 1.5, "symbolOffset": 14, "labelOffset": 29, "labelFontSize": 22, "rowPadding": 3.5, "labelColor": "black"}}
         },
         "layer": [
           {"mark": {"type": "line", "strokeWidth": 3}, "encoding": {"y": {"field": "p", "type": "quantitative", "title": "Proportion of selections", "scale": {"domain": [-0.04, 1.04], "nice": false, "zero": false}, "axis": {"values": [0,0.2,0.4,0.6,0.8,1], "format": ".1f", "tickSize": 10, "labelFontSize": 24, "labelPadding": 10, "titleFontSize": 33, "titlePadding": 18}}}},
           {"mark": {"type": "rule", "strokeWidth": 1.5}, "encoding": {"y": {"field": "lo", "type": "quantitative", "title": "Proportion of selections", "scale": {"domain": [-0.04, 1.04], "nice": false, "zero": false}}, "y2": {"field": "hi"}}}
         ]},
        {"width": 433, "height": 332, "view": {"stroke": "#444", "strokeWidth": 1.5},
         "title": {"text": "Adults", "fontSize": 37, "offset": -18, "baseline": "alphabetic"},
         "data": {"name": "blocks"},
         "transform": [{"filter": "datum.e == 2 && datum.g == 'Adults'"}],
         "encoding": {
           "x": {"field": "b", "type": "quantitative", "scale": {"domain": [0.84, 5.16], "nice": false, "zero": false}, "axis": {"values": [1,2,3,4,5], "format": "d", "title": null, "tickSize": 8, "labelFontSize": 24, "labelPadding": 9}},
           "color": {"field": "o", "type": "nominal", "scale": {"domain": ["10","3","2","1"], "range": ["#0000FF","#00FF00","#FFFF00","#FF0000"]}, "legend": null}
         },
         "layer": [
           {"mark": {"type": "line", "strokeWidth": 3}, "encoding": {"y": {"field": "p", "type": "quantitative", "title": null, "scale": {"domain": [-0.04, 1.04], "nice": false, "zero": false}, "axis": {"values": [0,0.2,0.4,0.6,0.8,1], "labels": false, "tickSize": 10}}}},
           {"mark": {"type": "rule", "strokeWidth": 1.5}, "encoding": {"y": {"field": "lo", "type": "quantitative", "title": null, "scale": {"domain": [-0.04, 1.04], "nice": false, "zero": false}}, "y2": {"field": "hi"}}}
         ]}
      ], "spacing": 16, "resolve": {"scale": {"color": "independent"}},
      "title": {"text": "Block (20 trials)", "orient": "bottom", "anchor": "middle", "frame": "bounds", "fontSize": 38, "offset": 44, "dx": 20, "baseline": "alphabetic"}}
    ], "spacing": 20.6, "resolve": {"scale": {"color": "independent"}},
    "title": {"text": "C", "anchor": "start", "frame": "bounds", "fontSize": 64, "color": "#0A46AF", "offset": -74, "dx": -61, "baseline": "top"}},
    {"width": 20, "height": 2, "data": {"values": [{}]}, "mark": {"type": "text", "text": "", "fontSize": 0}},
    {"width": 0.1, "height": 515, "data": {"values": [{}]}, "mark": {"type": "text", "text": "", "fontSize": 0}, "view": {"stroke": "black", "strokeWidth": 2}},
    {"width": 7, "height": 2, "data": {"values": [{}]}, "mark": {"type": "text", "text": "", "fontSize": 0}},
    {"vconcat": [
      {"width": 1, "height": 0.1, "data": {"values": [{}]}, "mark": {"type": "text", "text": "", "fontSize": 0}},
      {"width": 123, "height": 350, "view": {"stroke": "#444", "strokeWidth": 1.5},
       "title": {"text": ["Hidden option", "choices"], "fontSize": 27, "lineHeight": 30, "offset": -5, "dx": -12},
       "encoding": {"x": {"field": "g", "type": "nominal", "scale": {"type": "point", "domain": ["Children","Adults"], "padding": 0.579}, "axis": {"title": null, "tickSize": 8, "labelFontSize": 22, "labelPadding": 12, "labelAngle": 0, "labelOffset": {"condition": {"test": "datum.value === 'Children'", "value": -17}, "value": 17}}}},
       "layer": [
         {"data": {"name": "boxes"}, "transform": [{"filter": "datum.pn == 'D'"}], "mark": {"type": "rule", "color": "#444", "strokeWidth": 1.2, "strokeDash": [5, 4]}, "encoding": {"y": {"field": "q3", "type": "quantitative", "title": "Prop. hidden option chosen", "scale": {"domain": [-0.043, 1.043], "nice": false, "zero": false}, "axis": {"values": [0,0.2,0.4,0.6,0.8,1], "format": ".1f", "tickSize": 8, "labelFontSize": 25, "labelPadding": 9, "titleFontSize": 31, "titlePadding": 10}}, "y2": {"field": "whi"}}},
         {"data": {"name": "boxes"}, "transform": [{"filter": "datum.pn == 'D'"}], "mark": {"type": "rule", "color": "#444", "strokeWidth": 1.2, "strokeDash": [5, 4]}, "encoding": {"y": {"field": "wlo", "type": "quantitative", "title": "Prop. hidden option chosen", "scale": {"domain": [-0.043, 1.043], "nice": false, "zero": false}}, "y2": {"field": "q1"}}},
         {"data": {"name": "boxes"}, "transform": [{"filter": "datum.pn == 'D'"}], "mark": {"type": "bar", "width": 45, "fill": "transparent", "stroke": "#444", "strokeWidth": 1.2}, "encoding": {"y": {"field": "q1", "type": "quantitative", "title": "Prop. hidden option chosen", "scale": {"domain": [-0.043, 1.043], "nice": false, "zero": false}}, "y2": {"field": "q3"}}},
         {"data": {"name": "boxes"}, "transform": [{"filter": "datum.pn == 'D'"}], "mark": {"type": "bar", "width": 22, "fill": "transparent", "stroke": "#444", "strokeWidth": 1.2}, "encoding": {"y": {"field": "whi", "type": "quantitative", "title": "Prop. hidden option chosen", "scale": {"domain": [-0.043, 1.043], "nice": false, "zero": false}}, "y2": {"field": "whi"}}},
         {"data": {"name": "boxes"}, "transform": [{"filter": "datum.pn == 'D'"}], "mark": {"type": "bar", "width": 22, "fill": "transparent", "stroke": "#444", "strokeWidth": 1.2}, "encoding": {"y": {"field": "wlo", "type": "quantitative", "title": "Prop. hidden option chosen", "scale": {"domain": [-0.043, 1.043], "nice": false, "zero": false}}, "y2": {"field": "wlo"}}},
         {"data": {"name": "pts"}, "transform": [{"filter": "datum.pn == 'D'"}], "mark": {"type": "circle", "size": 64, "opacity": 1}, "encoding": {"y": {"field": "v", "type": "quantitative", "title": "Prop. hidden option chosen", "scale": {"domain": [-0.043, 1.043], "nice": false, "zero": false}}, "color": {"field": "g", "type": "nominal", "scale": {"domain": ["Children","Adults"], "range": ["#0033FF","#00EE00"]}, "legend": null}}},
         {"data": {"name": "outl"}, "transform": [{"filter": "datum.pn == 'D'"}], "mark": {"type": "point", "size": 45, "color": "#555", "strokeWidth": 1, "filled": false}, "encoding": {"y": {"field": "v", "type": "quantitative", "title": "Prop. hidden option chosen", "scale": {"domain": [-0.043, 1.043], "nice": false, "zero": false}}}},
         {"data": {"name": "boxes"}, "transform": [{"filter": "datum.pn == 'D'"}], "mark": {"type": "bar", "width": 45, "fill": "transparent", "stroke": "black", "strokeWidth": 3.5}, "encoding": {"y": {"field": "med", "type": "quantitative", "title": "Prop. hidden option chosen", "scale": {"domain": [-0.043, 1.043], "nice": false, "zero": false}}, "y2": {"field": "med"}}}
       ]}
    ], "spacing": 17.9, "resolve": {"scale": {"color": "independent"}},
    "title": {"text": "D", "anchor": "start", "frame": "bounds", "fontSize": 64, "color": "#0A46AF", "offset": -83, "dx": 1, "baseline": "top"}},
    {"width": 14, "height": 2, "data": {"values": [{}]}, "mark": {"type": "text", "text": "", "fontSize": 0}},
    {"width": 0.1, "height": 515, "data": {"values": [{}]}, "mark": {"type": "text", "text": "", "fontSize": 0}, "view": {"stroke": "black", "strokeWidth": 2}},
    {"width": 7, "height": 2, "data": {"values": [{}]}, "mark": {"type": "text", "text": "", "fontSize": 0}},
    {"vconcat": [
      {"width": 1, "height": 0.1, "data": {"values": [{}]}, "mark": {"type": "text", "text": "", "fontSize": 0}},
      {"hconcat": [
        {"width": 123, "height": 350, "view": {"stroke": "#444", "strokeWidth": 1.5},
         "title": {"text": ["Best option", "exposed"], "fontSize": 27, "lineHeight": 30, "offset": -5},
         "encoding": {"x": {"field": "g", "type": "nominal", "scale": {"type": "point", "domain": ["Children","Adults"], "padding": 0.579}, "axis": {"title": null, "tickSize": 8, "labelFontSize": 22, "labelPadding": 12, "labelAngle": 0, "labelOffset": {"condition": {"test": "datum.value === 'Children'", "value": -15}, "value": 15}}}},
         "layer": [
           {"data": {"name": "boxes"}, "transform": [{"filter": "datum.pn == 'E1'"}], "mark": {"type": "rule", "color": "#444", "strokeWidth": 1.2, "strokeDash": [5, 4]}, "encoding": {"y": {"field": "q3", "type": "quantitative", "title": "Prop. hidden option chosen", "scale": {"domain": [-0.043, 1.043], "nice": false, "zero": false}, "axis": {"values": [0,0.2,0.4,0.6,0.8,1], "format": ".1f", "tickSize": 8, "labelFontSize": 25, "labelPadding": 9, "titleFontSize": 31, "titlePadding": 16}}, "y2": {"field": "whi"}}},
           {"data": {"name": "boxes"}, "transform": [{"filter": "datum.pn == 'E1'"}], "mark": {"type": "rule", "color": "#444", "strokeWidth": 1.2, "strokeDash": [5, 4]}, "encoding": {"y": {"field": "wlo", "type": "quantitative", "title": "Prop. hidden option chosen", "scale": {"domain": [-0.043, 1.043], "nice": false, "zero": false}}, "y2": {"field": "q1"}}},
           {"data": {"name": "boxes"}, "transform": [{"filter": "datum.pn == 'E1'"}], "mark": {"type": "bar", "width": 45, "fill": "transparent", "stroke": "#444", "strokeWidth": 1.2}, "encoding": {"y": {"field": "q1", "type": "quantitative", "title": "Prop. hidden option chosen", "scale": {"domain": [-0.043, 1.043], "nice": false, "zero": false}}, "y2": {"field": "q3"}}},
           {"data": {"name": "boxes"}, "transform": [{"filter": "datum.pn == 'E1'"}], "mark": {"type": "bar", "width": 22, "fill": "transparent", "stroke": "#444", "strokeWidth": 1.2}, "encoding": {"y": {"field": "whi", "type": "quantitative", "title": "Prop. hidden option chosen", "scale": {"domain": [-0.043, 1.043], "nice": false, "zero": false}}, "y2": {"field": "whi"}}},
           {"data": {"name": "boxes"}, "transform": [{"filter": "datum.pn == 'E1'"}], "mark": {"type": "bar", "width": 22, "fill": "transparent", "stroke": "#444", "strokeWidth": 1.2}, "encoding": {"y": {"field": "wlo", "type": "quantitative", "title": "Prop. hidden option chosen", "scale": {"domain": [-0.043, 1.043], "nice": false, "zero": false}}, "y2": {"field": "wlo"}}},
           {"data": {"name": "pts"}, "transform": [{"filter": "datum.pn == 'E1'"}], "mark": {"type": "circle", "size": 64, "opacity": 1}, "encoding": {"y": {"field": "v", "type": "quantitative", "title": "Prop. hidden option chosen", "scale": {"domain": [-0.043, 1.043], "nice": false, "zero": false}}, "color": {"field": "g", "type": "nominal", "scale": {"domain": ["Children","Adults"], "range": ["#0033FF","#00EE00"]}, "legend": null}}},
           {"data": {"name": "outl"}, "transform": [{"filter": "datum.pn == 'E1'"}], "mark": {"type": "point", "size": 45, "color": "#555", "strokeWidth": 1, "filled": false}, "encoding": {"y": {"field": "v", "type": "quantitative", "title": "Prop. hidden option chosen", "scale": {"domain": [-0.043, 1.043], "nice": false, "zero": false}}}},
           {"data": {"name": "boxes"}, "transform": [{"filter": "datum.pn == 'E1'"}], "mark": {"type": "bar", "width": 45, "fill": "transparent", "stroke": "black", "strokeWidth": 3.5}, "encoding": {"y": {"field": "med", "type": "quantitative", "title": "Prop. hidden option chosen", "scale": {"domain": [-0.043, 1.043], "nice": false, "zero": false}}, "y2": {"field": "med"}}}
         ]},
        {"width": 123, "height": 350, "view": {"stroke": "#444", "strokeWidth": 1.5},
         "title": {"text": ["Best option", "hidden"], "fontSize": 27, "lineHeight": 30, "offset": 8.3, "dx": 6},
         "encoding": {"x": {"field": "g", "type": "nominal", "scale": {"type": "point", "domain": ["Children","Adults"], "padding": 0.579}, "axis": {"title": null, "tickSize": 8, "labelFontSize": 22, "labelPadding": 12, "labelAngle": 0, "labelOffset": {"condition": {"test": "datum.value === 'Children'", "value": -5}, "value": 20}}}},
         "layer": [
           {"data": {"name": "boxes"}, "transform": [{"filter": "datum.pn == 'E2'"}], "mark": {"type": "rule", "color": "#444", "strokeWidth": 1.2, "strokeDash": [5, 4]}, "encoding": {"y": {"field": "q3", "type": "quantitative", "title": null, "scale": {"domain": [-0.043, 1.043], "nice": false, "zero": false}, "axis": {"values": [0,0.2,0.4,0.6,0.8,1], "labels": false, "tickSize": 8}}, "y2": {"field": "whi"}}},
           {"data": {"name": "boxes"}, "transform": [{"filter": "datum.pn == 'E2'"}], "mark": {"type": "rule", "color": "#444", "strokeWidth": 1.2, "strokeDash": [5, 4]}, "encoding": {"y": {"field": "wlo", "type": "quantitative", "title": null, "scale": {"domain": [-0.043, 1.043], "nice": false, "zero": false}}, "y2": {"field": "q1"}}},
           {"data": {"name": "boxes"}, "transform": [{"filter": "datum.pn == 'E2'"}], "mark": {"type": "bar", "width": 45, "fill": "transparent", "stroke": "#444", "strokeWidth": 1.2}, "encoding": {"y": {"field": "q1", "type": "quantitative", "title": null, "scale": {"domain": [-0.043, 1.043], "nice": false, "zero": false}}, "y2": {"field": "q3"}}},
           {"data": {"name": "boxes"}, "transform": [{"filter": "datum.pn == 'E2'"}], "mark": {"type": "bar", "width": 22, "fill": "transparent", "stroke": "#444", "strokeWidth": 1.2}, "encoding": {"y": {"field": "whi", "type": "quantitative", "title": null, "scale": {"domain": [-0.043, 1.043], "nice": false, "zero": false}}, "y2": {"field": "whi"}}},
           {"data": {"name": "boxes"}, "transform": [{"filter": "datum.pn == 'E2'"}], "mark": {"type": "bar", "width": 22, "fill": "transparent", "stroke": "#444", "strokeWidth": 1.2}, "encoding": {"y": {"field": "wlo", "type": "quantitative", "title": null, "scale": {"domain": [-0.043, 1.043], "nice": false, "zero": false}}, "y2": {"field": "wlo"}}},
           {"data": {"name": "pts"}, "transform": [{"filter": "datum.pn == 'E2'"}], "mark": {"type": "circle", "size": 64, "opacity": 1}, "encoding": {"y": {"field": "v", "type": "quantitative", "title": null, "scale": {"domain": [-0.043, 1.043], "nice": false, "zero": false}}, "color": {"field": "g", "type": "nominal", "scale": {"domain": ["Children","Adults"], "range": ["#0033FF","#00EE00"]}, "legend": null}}},
           {"data": {"name": "outl"}, "transform": [{"filter": "datum.pn == 'E2'"}], "mark": {"type": "point", "size": 45, "color": "#555", "strokeWidth": 1, "filled": false}, "encoding": {"y": {"field": "v", "type": "quantitative", "title": null, "scale": {"domain": [-0.043, 1.043], "nice": false, "zero": false}}}},
           {"data": {"name": "boxes"}, "transform": [{"filter": "datum.pn == 'E2'"}], "mark": {"type": "bar", "width": 45, "fill": "transparent", "stroke": "black", "strokeWidth": 3.5}, "encoding": {"y": {"field": "med", "type": "quantitative", "title": null, "scale": {"domain": [-0.043, 1.043], "nice": false, "zero": false}}, "y2": {"field": "med"}}}
         ]}
      ], "spacing": 13, "resolve": {"scale": {"color": "independent"}}}
    ], "spacing": 17.9, "resolve": {"scale": {"color": "independent"}},
    "title": {"text": "E", "anchor": "start", "frame": "bounds", "fontSize": 64, "color": "#0A46AF", "offset": -85, "dx": -8, "baseline": "top"}},
    {"width": 16, "height": 2, "data": {"values": [{}]}, "mark": {"type": "text", "text": "", "fontSize": 0}},
    {"width": 0.1, "height": 515, "data": {"values": [{}]}, "mark": {"type": "text", "text": "", "fontSize": 0}, "view": {"stroke": "black", "strokeWidth": 2}}
  ], "spacing": 0, "resolve": {"scale": {"color": "independent"}}},
  {"width": 1795, "height": 0.1, "data": {"values": [{}]}, "mark": {"type": "text", "text": "", "fontSize": 0}, "view": {"stroke": "black", "strokeWidth": 2}}
]
}
